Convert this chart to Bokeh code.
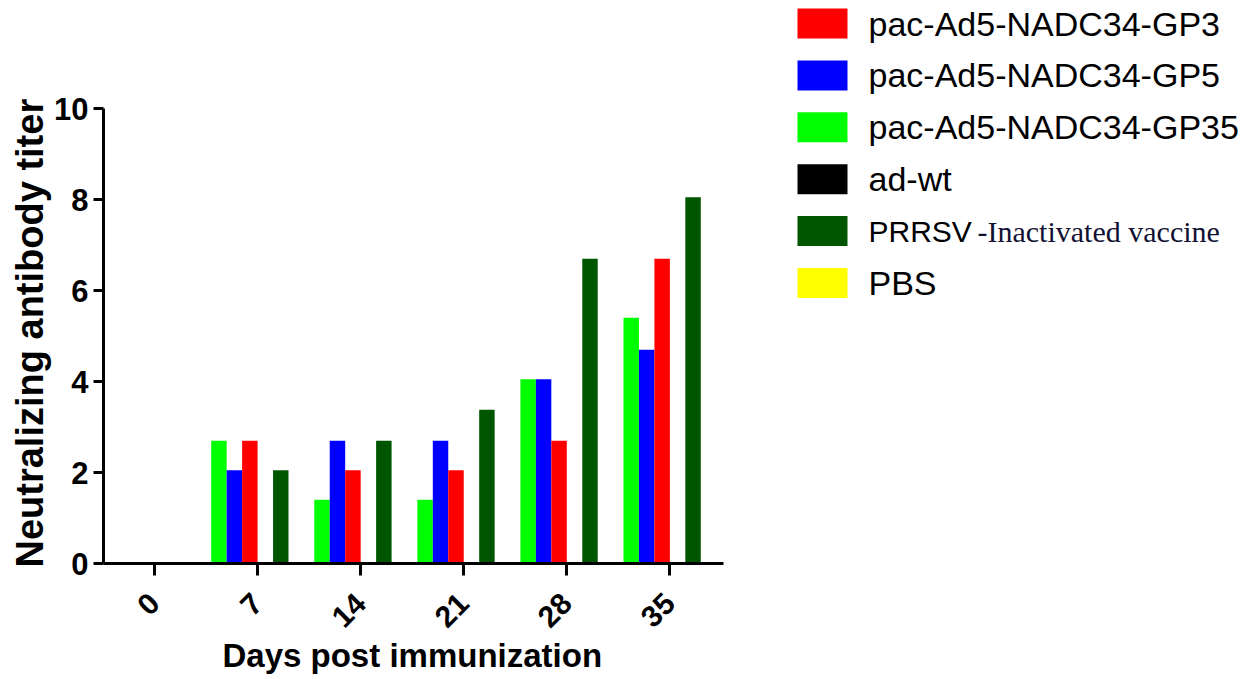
import math
from bokeh.plotting import figure
from bokeh.models import Range1d, FixedTicker, Title
from bokeh.core.properties import value
from bokeh.embed import file_html
from bokeh.resources import INLINE

# ---- data ----
days = ["0", "7", "14", "21", "28", "35"]
gp35 = [0, 2.7, 1.4, 1.4, 4.05, 5.4]
gp5 = [0, 2.05, 2.7, 2.7, 4.05, 4.7]
gp3 = [0, 2.7, 2.05, 2.05, 2.7, 6.7]
adwt = [0, 0, 0, 0, 0, 0]
prrsv = [0, 2.05, 2.7, 3.38, 6.7, 8.05]
pbs = [0, 0, 0, 0, 0, 0]
y_ticks = [0, 2, 4, 6, 8, 10]
x_title = "Days post immunization"
y_title = "Neutralizing antibody titer"

names = {
    "gp3": "pac-Ad5-NADC34-GP3",
    "gp5": "pac-Ad5-NADC34-GP5",
    "gp35": "pac-Ad5-NADC34-GP35",
    "adwt": "ad-wt",
    "prrsv": "PRRSV -Inactivated vaccine",
    "pbs": "PBS",
}
colors = {
    "gp3": "#FF0000",
    "gp5": "#0000FF",
    "gp35": "#00FF00",
    "adwt": "#000000",
    "prrsv": "#005500",
    "pbs": "#FFFF00",
}
values = {"gp35": gp35, "gp5": gp5, "gp3": gp3, "adwt": adwt, "prrsv": prrsv, "pbs": pbs}
bar_order = ["gp35", "gp5", "gp3", "adwt", "prrsv", "pbs"]
legend_order = ["gp3", "gp5", "gp35", "adwt", "prrsv", "pbs"]

SANS = "Liberation Sans"
SERIF = "Liberation Serif"

# ---- layout (canvas pixels) ----
W, H = 1241, 679
ML, MB = 103, 116
FW, FH = W - ML, H - MB          # frame fills the top/right of the canvas
XS = 103.07                       # px per category
YS = 45.5                         # px per titer unit
X0 = -0.495
X1 = X0 + FW / XS
AX_END = 5.52                     # where the drawn x axis stops
Y0, Y1 = 0, FH / YS

p = figure(width=W, height=H, output_backend="svg", toolbar_location=None,
           x_range=Range1d(X0, X1), y_range=Range1d(Y0, Y1),
           min_border_left=ML, min_border_right=0, min_border_top=0,
           min_border_bottom=MB)
p.outline_line_color = None
p.grid.visible = False

bw = 0.15
idx = list(range(len(days)))
for j, key in enumerate(bar_order):
    off = (j - (len(bar_order) - 1) / 2) * bw
    p.vbar(x=[i + off for i in idx], top=values[key], width=bw,
           fill_color=colors[key], line_color=None)

for ax in (p.xaxis[0], p.yaxis[0]):
    ax.axis_line_width = 3
    ax.major_tick_line_width = 3
    ax.major_tick_in = 0
    ax.minor_tick_line_color = None
    ax.axis_line_color = "black"
    ax.major_tick_line_color = "black"
    ax.major_label_text_font = SANS
    ax.major_label_text_font_style = "bold"
    ax.major_label_text_color = "black"

p.xaxis.bounds = (X0, AX_END)
p.xaxis.ticker = FixedTicker(ticks=idx)
p.xaxis.major_label_overrides = {i: d for i, d in enumerate(days)}
p.xaxis.major_label_orientation = math.pi / 4
p.xaxis.major_tick_out = 12
p.xaxis.major_label_text_font_size = "30px"
p.xaxis.major_label_standoff = 23

p.yaxis.bounds = (0, 10)
p.yaxis.ticker = FixedTicker(ticks=y_ticks)
p.yaxis.major_tick_out = 10
p.yaxis.major_label_text_font_size = "31px"
p.yaxis.major_label_standoff = 5

# axis titles, aligned to the drawn axes rather than the wide frame
p.add_layout(Title(text=x_title, align="left", offset=119, standoff=-9,
                   text_font=SANS, text_font_style="bold",
                   text_font_size="33px", text_color="black"), "below")
p.add_layout(Title(text=y_title, align="left", offset=-4, standoff=2,
                   text_font=SANS, text_font_style="bold",
                   text_font_size="38px", text_color="black"), "left")

# ---- legend, drawn inside the (wide) frame to the right of the axes ----
def cx(canvas_x):
    return X0 + (canvas_x - ML) / XS

def cy(canvas_y):
    return Y0 + (FH - canvas_y) / YS

ROW0, PITCH = 23, 51.9
BOX_CX, TEXT_X = 822, 868
n = len(legend_order)
row_y = [cy(ROW0 + i * PITCH) for i in range(n)]
p.rect(x=[cx(BOX_CX)] * n, y=row_y, width=50, height=30,
       width_units="screen", height_units="screen",
       fill_color=[colors[k] for k in legend_order], line_color=None)

plain = [k for k in legend_order if k != "prrsv"]
p.text(x=[cx(TEXT_X)] * len(plain), y=[row_y[legend_order.index(k)] for k in plain],
       text=[names[k] for k in plain], text_font=value(SANS),
       text_font_size="34px", text_baseline="middle", text_color="black")

pa, pb = names["prrsv"].split(" ", 1)
yi = row_y[legend_order.index("prrsv")]
p.text(x=[cx(TEXT_X)], y=[yi], text=[pa], text_font=value(SANS),
       text_font_size="30px", text_baseline="middle", text_color="black")
p.text(x=[cx(TEXT_X + 109)], y=[yi], text=[pb], text_font=value(SERIF),
       text_font_size="30px", text_baseline="middle", text_color="#111133")

open("out.html", "w").write(file_html(p, INLINE))
